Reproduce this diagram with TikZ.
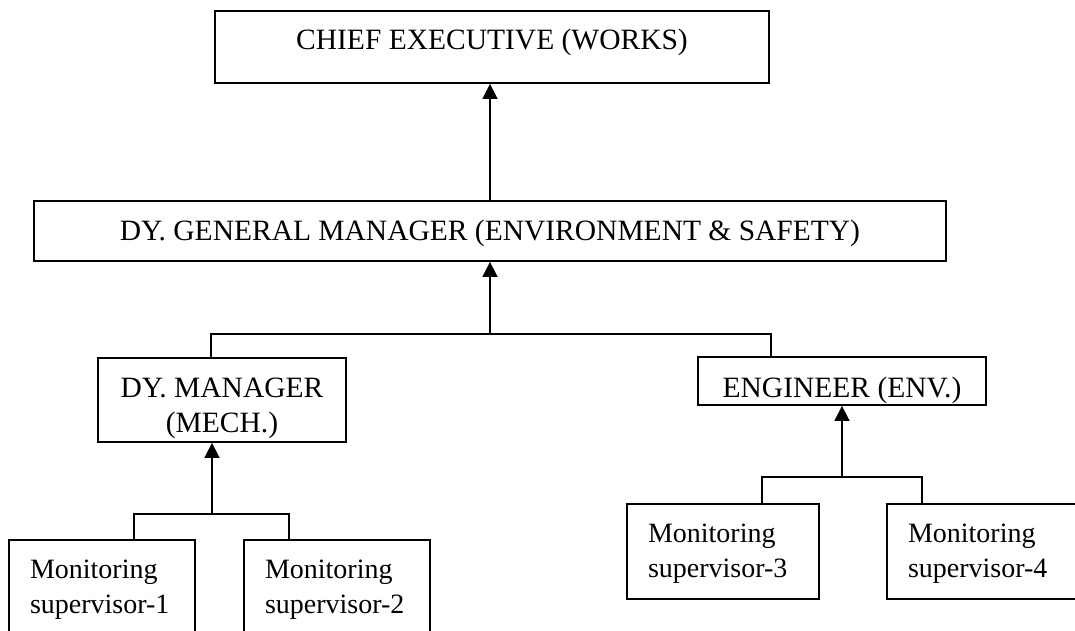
\documentclass[tikz,border=0pt]{standalone}
\usepackage{fontspec}
\setmainfont{Liberation Serif}
\usetikzlibrary{arrows.meta,positioning}

\begin{document}
\begin{tikzpicture}[
  x=1pt, y=-1pt,
  box/.style={draw, line width=1.8pt, inner sep=0pt, font=\fontsize{29.5}{35}\selectfont},
  sup/.style={box, align=left, inner xsep=21pt, text width=150pt, minimum width=192pt, minimum height=95pt,
    text height=39pt, text depth=56pt, anchor=north, font=\fontsize{28}{35}\selectfont},
  link/.style={line width=1.6pt},
  arr/.style={link, -{Triangle[length=15pt,width=15pt]}}
]
  \useasboundingbox (0,0) rectangle (1075,631);
  \clip (0,0) rectangle (1075,631);

  \node[box, minimum width=554pt, minimum height=72pt, text height=39pt, text depth=33pt] (chief) at (492,47) {CHIEF EXECUTIVE (WORKS)};
  \node[box, minimum width=912pt, minimum height=60pt, text height=39pt, text depth=21pt] (dgm) at (490,231) {DY. GENERAL MANAGER (ENVIRONMENT \& SAFETY)};
  \node[box, align=center, minimum width=248pt, minimum height=84pt, text height=74pt, text depth=10pt] (dym) at (222,400) {DY. MANAGER\\(MECH.)};
  \node[box, minimum width=288pt, minimum height=48pt, text height=40pt, text depth=8pt] (eng) at (842,381) {ENGINEER (ENV.)};

  \node[sup, text width=144pt, minimum width=186pt] (ms1) at (102,539) {Monitoring\\supervisor-1};
  \node[sup, text width=144pt, minimum width=186pt] (ms2) at (337,539) {Monitoring\\supervisor-2};
  \node[sup] (ms3) at (723,503) {Monitoring\\supervisor-3};
  \node[sup] (ms4) at (983,503) {Monitoring\\supervisor-4};

  % reporting lines
  \coordinate (j1) at (490,334);
  \coordinate (j2) at (212,514);
  \coordinate (j3) at (842,477);

  \draw[arr] (dgm.north -| j1) -- (chief.south -| j1);
  \draw[link] ([xshift=-11pt]dym.north) |- (j1) -| ([xshift=-71pt]eng.north);
  \draw[arr] (j1) -- (dgm.south -| j1);

  \draw[link] ([xshift=32pt]ms1.north) |- (j2) -| ([xshift=-48pt]ms2.north);
  \draw[arr] (j2) -- (dym.south -| j2);

  \draw[link] ([xshift=39pt]ms3.north) |- (j3) -| ([xshift=-61pt]ms4.north);
  \draw[arr] (j3) -- (eng.south);
\end{tikzpicture}
\end{document}
